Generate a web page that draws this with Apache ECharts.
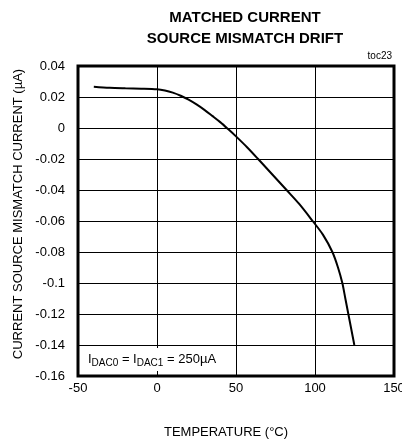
<!DOCTYPE html>
<html>
<head>
<meta charset="utf-8">
<script src="https://cdn.jsdelivr.net/npm/echarts@6/dist/echarts.min.js"></script>
<style>html,body{margin:0;padding:0;background:#fff}#c{width:402px;height:445px}</style>
</head>
<body>
<div id="c"></div>
<script>
const temperatures = [-40, -30, -20, -10, 0, 5, 10, 15, 20, 25, 30, 35, 40, 45, 50, 57, 64, 73, 82, 90, 98.5, 105, 111, 114.5, 117.3, 119.2, 121.1, 123, 124.9];
const mismatch = [0.0266, 0.0259, 0.0256, 0.0254, 0.0250, 0.0242, 0.0228, 0.0208, 0.0183, 0.0152, 0.0117, 0.0078, 0.0038, -0.0007, -0.0054, -0.0124, -0.0200, -0.0300, -0.0400, -0.0490, -0.0600, -0.0688, -0.0800, -0.0898, -0.1000, -0.1100, -0.1200, -0.1300, -0.1400];
const xTicks = [-50, 0, 50, 100, 150];
const yTicks = [-0.16, -0.14, -0.12, -0.1, -0.08, -0.06, -0.04, -0.02, 0, 0.02, 0.04];

const F = 'Liberation Sans, Arial, sans-serif';
const chart = echarts.init(document.getElementById('c'), null, {renderer: 'canvas'});
chart.setOption({
  animation: false,
  backgroundColor: '#fff',
  title: {
    text: 'MATCHED CURRENT\nSOURCE MISMATCH DRIFT',
    left: 240, top: 2, textAlign: 'center',
    textStyle: {fontFamily: F, fontSize: 15, fontWeight: 'bold', color: '#000', lineHeight: 21}
  },
  grid: {left: 78, right: 8, top: 66, bottom: 69, outerBoundsMode: 'none', containLabel: false,
    show: true, borderColor: '#000', borderWidth: 3, backgroundColor: 'transparent'},
  xAxis: {
    type: 'value', min: xTicks[0], max: xTicks[xTicks.length - 1], interval: 50,
    name: 'TEMPERATURE (°C)', nameLocation: 'middle', nameGap: 50,
    nameTextStyle: {fontFamily: F, fontSize: 13, color: '#000', padding: [0, 20, 0, 0]},
    axisLine: {show: false}, axisTick: {show: false},
    axisLabel: {fontFamily: F, fontSize: 13, color: '#000', margin: 6},
    splitLine: {show: true, lineStyle: {color: '#000', width: 1}}
  },
  yAxis: {
    type: 'value', min: yTicks[0], max: yTicks[yTicks.length - 1], interval: 0.02,
    name: 'CURRENT SOURCE MISMATCH CURRENT (µA)', nameLocation: 'middle', nameGap: 50,
    nameTextStyle: {fontFamily: F, fontSize: 13, color: '#000', padding: [0, 0, 0, 14]},
    axisLine: {show: false}, axisTick: {show: false},
    axisLabel: {fontFamily: F, fontSize: 13, color: '#000', margin: 13,
      formatter: v => String(parseFloat(v.toFixed(2)))},
    splitLine: {show: true, lineStyle: {color: '#000', width: 1}}
  },
  graphic: [
    {type: 'text', right: 10, top: 51, style: {text: 'toc23', fontFamily: F, fontSize: 10, fill: '#000'}},
    {type: 'text', left: 84, top: 348, z: 10, style: {
      text: '{m|I}{s|DAC0}{m| = I}{s|DAC1}{m| = 250µA}',
      backgroundColor: '#fff', padding: [2, 4, 3, 4],
      rich: {
        m: {fontFamily: F, fontSize: 13, fill: '#000', lineHeight: 18, verticalAlign: 'middle'},
        s: {fontFamily: F, fontSize: 10, fill: '#000', lineHeight: 10, verticalAlign: 'bottom'}
      }
    }}
  ],
  series: [{
    type: 'line', smooth: 0.3, showSymbol: false,
    data: temperatures.map((t, i) => [t, mismatch[i]]),
    lineStyle: {color: '#000', width: 2}
  }]
});
</script>
</body>
</html>
